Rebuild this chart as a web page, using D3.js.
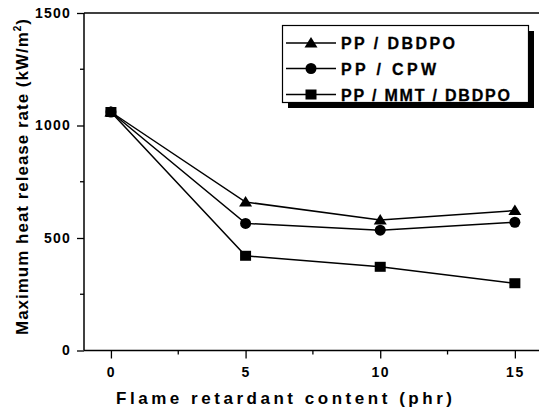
<!DOCTYPE html>
<html><head><meta charset="utf-8">
<script src="https://cdn.jsdelivr.net/npm/d3@7/dist/d3.min.js"></script>
<style>body{margin:0;background:#fff}svg{display:block}text{font-family:"Liberation Sans",Arial,sans-serif;font-weight:bold;fill:#000}</style>
</head><body><svg id="c" width="539" height="412"></svg>
<script>
const contents = [0, 5, 10, 15];
const seriesNames = ["PP / DBDPO", "PP / CPW", "PP / MMT / DBDPO"];
const dbdpo = [1060, 660, 580, 622];
const cpw = [1060, 565, 535, 570];
const mmtDbdpo = [1060, 421, 372, 299];
const symbols = ["triangle", "circle", "square"];
const xTicks = [0, 5, 10, 15];
const xMinor = [2.5, 7.5, 12.5];
const yTicks = [0, 500, 1000, 1500];
const yMinor = [250, 750, 1250];

const svg = d3.select("#c");
const x = d3.scaleLinear().domain([-1, 16]).range([84, 541.8]);
const y = d3.scaleLinear().domain([0, 1500]).range([350.5, 13]);

svg.append("line").attr("x1",84).attr("x2",539).attr("y1",y(1500)).attr("y2",y(1500)).attr("stroke","#000").attr("stroke-width",1.5);

const xa = svg.append("g").attr("transform",`translate(0,${y(0)})`)
  .call(d3.axisBottom(x).tickValues(xTicks).tickSize(8).tickPadding(9).tickFormat(d3.format("d")));
xa.select(".domain").remove();
xa.append("line").attr("x1",84).attr("x2",539).attr("stroke","#000").attr("stroke-width",1.5);
xa.selectAll(".minor").data(xMinor).join("line").attr("x1",d=>x(d)).attr("x2",d=>x(d)).attr("y1",0).attr("y2",4).attr("stroke","#000").attr("stroke-width",1.3);
xa.selectAll(".tick line").attr("stroke-width",1.3);
xa.selectAll(".tick text").style("font-size","14px").style("font-family","Liberation Sans, Arial, sans-serif").style("font-weight","bold").attr("letter-spacing","1.5");

const ya = svg.append("g").attr("transform",`translate(84,0)`)
  .call(d3.axisLeft(y).tickValues(yTicks).tickSize(7).tickPadding(6).tickFormat(d3.format("d")));
ya.select(".domain").remove();
ya.append("line").attr("y1",y(1500)).attr("y2",y(0)).attr("stroke","#000").attr("stroke-width",1.5);
ya.selectAll(".minor").data(yMinor).join("line").attr("y1",d=>y(d)).attr("y2",d=>y(d)).attr("x1",0).attr("x2",-4).attr("stroke","#000").attr("stroke-width",1.3);
ya.selectAll(".tick line").attr("stroke-width",1.3);
ya.selectAll(".tick text").style("font-size","14px").style("font-family","Liberation Sans, Arial, sans-serif").style("font-weight","bold").attr("letter-spacing","1.2");

svg.append("text").attr("x",284).attr("y",404).attr("text-anchor","middle").style("font-size","17px")
  .attr("textLength",336).attr("lengthAdjust","spacing").text("Flame retardant content (phr)");
const yt = svg.append("text").attr("transform","translate(28,177) rotate(-90)").attr("text-anchor","middle").style("font-size","17px")
  .attr("textLength",316).attr("lengthAdjust","spacing");
yt.append("tspan").text("Maximum heat release rate (kW/m");
yt.append("tspan").attr("dy",-7).style("font-size","10px").text("2");
yt.append("tspan").attr("dy",7).text(")");

const series = [dbdpo, cpw, mmtDbdpo];
const line = d3.line().x((d,i)=>x(contents[i])).y(d=>y(d));
function marker(g, type, cx, cy){
  if(type==="triangle") g.append("path").attr("d",`M${cx},${cy-6} L${cx+6.5},${cy+4.5} L${cx-6.5},${cy+4.5}Z`).attr("fill","#000");
  else if(type==="circle") g.append("circle").attr("cx",cx).attr("cy",cy).attr("r",5.5).attr("fill","#000");
  else g.append("rect").attr("x",cx-5.5).attr("y",cy-5).attr("width",11).attr("height",10).attr("fill","#000");
}
series.forEach((s,k)=>{
  svg.append("path").datum(s).attr("d",line).attr("fill","none").attr("stroke","#000").attr("stroke-width",1.5);
});
series.forEach((s,k)=>{
  const g = svg.append("g");
  s.forEach((v,i)=>marker(g, symbols[k], x(contents[i]), y(v)));
});

const lg = svg.append("g");
lg.append("rect").attr("x",288).attr("y",31).attr("width",246).attr("height",77).attr("fill","#000");
lg.append("rect").attr("x",282.5).attr("y",25.5).attr("width",246).attr("height",77).attr("fill","#fff").attr("stroke","#000").attr("stroke-width",1.2);
const rowY = [43, 68.5, 94.5];
const textW = [114, 95, 169];
seriesNames.forEach((n,k)=>{
  lg.append("line").attr("x1",286).attr("x2",336).attr("y1",rowY[k]).attr("y2",rowY[k]).attr("stroke","#000").attr("stroke-width",1.5);
  marker(lg, symbols[k], 311, rowY[k]);
  lg.append("text").attr("x",341).attr("y",rowY[k]+6).style("font-size","16px")
    .attr("stroke","#000").attr("stroke-width",0.3)
    .attr("textLength",textW[k]).attr("lengthAdjust","spacing").text(n);
});
</script></body></html>
